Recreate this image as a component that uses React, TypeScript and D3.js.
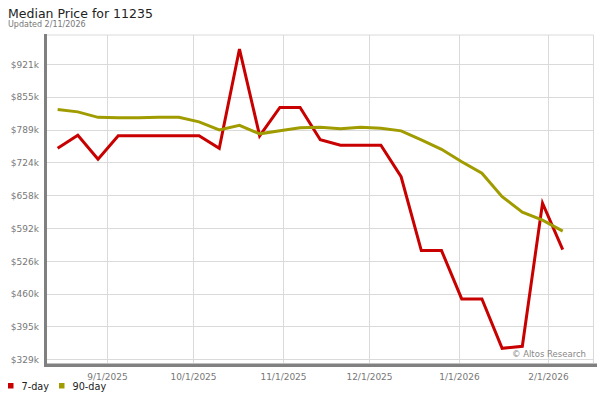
import React from "react";
import * as d3 from "d3";

const dates = [
  "2025-08-15", "2025-08-22", "2025-08-29", "2025-09-05", "2025-09-12", "2025-09-19",
  "2025-09-26", "2025-10-03", "2025-10-10", "2025-10-17", "2025-10-24", "2025-10-31",
  "2025-11-07", "2025-11-14", "2025-11-21", "2025-11-28", "2025-12-05", "2025-12-12",
  "2025-12-19", "2025-12-26", "2026-01-02", "2026-01-09", "2026-01-16", "2026-01-23",
  "2026-01-30", "2026-02-06",
];
const sevenDay = [752, 778, 730, 777, 777, 777, 777, 777, 752, 951, 777, 834, 834, 769, 758, 758, 758, 695, 547, 547, 450, 450, 351, 355, 642, 549];
const ninetyDay = [830, 825, 814, 813, 813, 814, 814, 805, 789, 798, 781, 787, 793, 794, 791, 794, 792, 787, 769, 750, 725, 702, 655, 624, 608, 586];
const yTicks = [329, 395, 460, 526, 592, 658, 724, 789, 855, 921];
const xTicks = ["2025-09-01", "2025-10-01", "2025-11-01", "2025-12-01", "2026-01-01", "2026-02-01"];
const xTickLabels = ["9/1/2025", "10/1/2025", "11/1/2025", "12/1/2025", "1/1/2026", "2/1/2026"];
const seriesNames = ["7-day", "90-day"];
const colors = ["#c80000", "#a09c00"];

const W = 600, H = 400;
const plot = { left: 47, right: 593.5, top: 35, bottom: 363 };
const font = "'DejaVu Sans', Verdana, sans-serif";

const parse = (s: string) => new Date(s + "T00:00:00");

export default function App() {
  const x = d3.scaleTime().domain([parse("2025-09-01"), parse("2026-02-01")]).range([106.7, 548.3]);
  const y = d3.scaleLinear().domain([329, 921]).range([359.3, 64]);
  const line = d3.line<number>().x((_, i) => x(parse(dates[i]))).y((v) => y(v));
  const series = [sevenDay, ninetyDay];

  return (
    <svg width={W} height={H} style={{ position: "absolute", left: 0, top: 0, background: "#fff" }} fontFamily={font}>
      <text x={8} y={18} fontSize={12.5} fill="#222">Median Price for 11235</text>
      <text x={8} y={26.5} fontSize={8} fill="#777">Updated 2/11/2026</text>

      {/* grid */}
      <line x1={plot.left} x2={plot.right} y1={plot.top} y2={plot.top} stroke="#dadada" />
      <line x1={plot.right} x2={plot.right} y1={plot.top} y2={plot.bottom} stroke="#dadada" />
      {yTicks.map((t) => (
        <g key={t}>
          <line x1={plot.left} x2={plot.right} y1={Math.round(y(t)) + 0.5} y2={Math.round(y(t)) + 0.5} stroke="#dadada" />
          <text x={39} y={y(t) + 3.5} fontSize={9} fill="#777" textAnchor="end">${t}k</text>
        </g>
      ))}
      {xTicks.map((t, i) => {
        const px = Math.round(x(parse(t))) + 0.5;
        return (
          <g key={t}>
            <line x1={px} x2={px} y1={plot.top} y2={plot.bottom} stroke="#dadada" />
            <text x={px} y={380} fontSize={9} fill="#777" textAnchor="middle">{xTickLabels[i]}</text>
          </g>
        );
      })}

      {/* axis bars */}
      <rect x={44} y={34} width={3} height={333} fill="#808080" />
      <rect x={44} y={363.5} width={553} height={3.5} fill="#808080" />

      <text x={586} y={356.5} fontSize={8.5} fill="#888" textAnchor="end">© Altos Research</text>

      {series.map((s, i) => (
        <path key={i} d={line(s) || ""} fill="none" stroke={colors[i]} strokeWidth={3} strokeLinejoin="miter" />
      ))}

      {/* legend */}
      {seriesNames.map((n, i) => (
        <g key={n} transform={`translate(${i === 0 ? 8 : 59},0)`}>
          <rect x={0} y={383} width={5.5} height={5.5} fill={colors[i]} />
          <text x={13.5} y={389.5} fontSize={9.7} fill="#222">{n}</text>
        </g>
      ))}
    </svg>
  );
}
